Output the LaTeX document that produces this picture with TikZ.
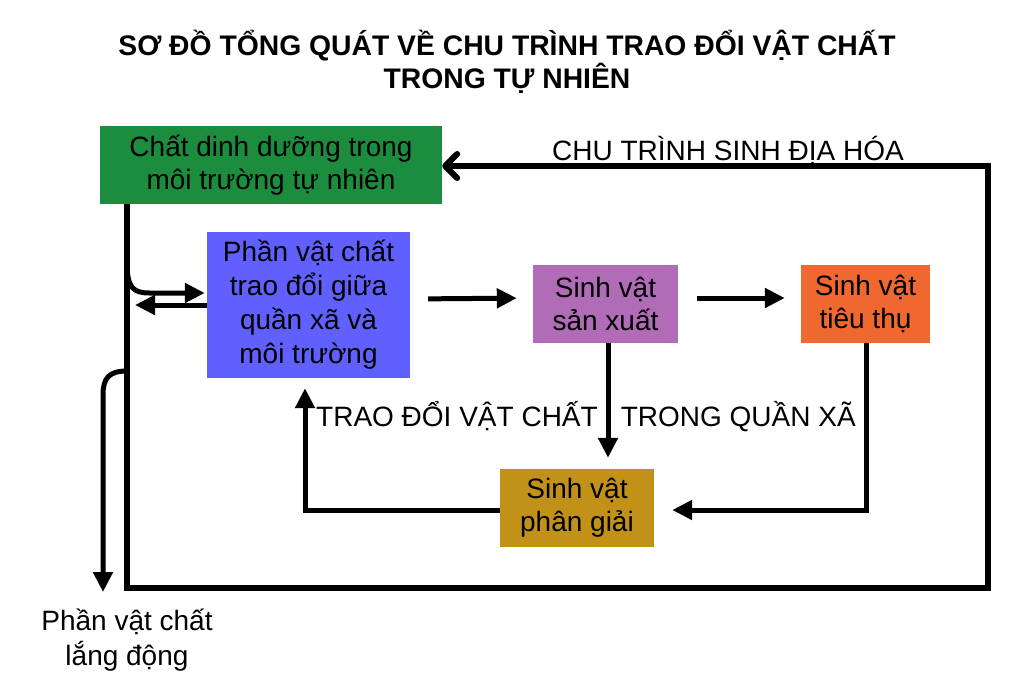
\documentclass[tikz,border=0pt]{standalone}
\usepackage{fontspec}
\setmainfont{Liberation Sans}
\usetikzlibrary{arrows.meta,calc}
\definecolor{cgreen}{RGB}{28,140,62}
\definecolor{cblue}{RGB}{96,96,255}
\definecolor{cpurple}{RGB}{176,108,182}
\definecolor{corange}{RGB}{238,104,48}
\definecolor{cgold}{RGB}{194,146,24}
\tikzset{
  box/.style={rectangle, inner sep=0pt, align=center, text=black,
    font=\fontsize{28pt}{33pt}\selectfont},
  lbl/.style={inner sep=0pt, align=center, font=\fontsize{28pt}{35pt}\selectfont},
  arr/.style={line width=5pt, -{Triangle[length=20pt,width=19pt]}},
  cyc/.style={line width=6pt, -{Straight Barb[round,length=12pt,width=24pt]}},
}
\begin{document}
\begin{tikzpicture}[x=1pt,y=-1pt]
\path[use as bounding box, fill=white] (0,0) rectangle (1024,699);
% title
\node[lbl, font=\fontsize{28.3pt}{33pt}\selectfont\bfseries] (title) at (507,62)
  {SƠ ĐỒ TỔNG QUÁT VỀ CHU TRÌNH TRAO ĐỔI VẬT CHẤT\\TRONG TỰ NHIÊN};
% boxes
\node[box, fill=cgreen, minimum width=342pt, minimum height=78pt] (green) at (271,165)
  {Chất dinh dưỡng trong\\môi trường tự nhiên};
\node[box, fill=cblue, minimum width=203pt, minimum height=146pt,
  font=\fontsize{28pt}{34pt}\selectfont] (blue) at (308.5,305)
  {Phần vật chất\\trao đổi giữa\\quần xã và\\môi trường};
\node[box, fill=cpurple, minimum width=145pt, minimum height=78pt] (prod) at (605.5,304)
  {Sinh vật\\sản xuất};
\node[box, fill=corange, minimum width=129pt, minimum height=78pt] (cons) at (865.5,304)
  {Sinh vật\\tiêu thụ};
\node[box, fill=cgold, minimum width=154pt, minimum height=78pt] (dec) at (577,508)
  {Sinh vật\\phân giải};
% labels
\node[lbl] (cyclbl) at (728,150) {CHU TRÌNH SINH ĐỊA HÓA};
\node[lbl, anchor=west] (trlbl) at (316,417) {TRAO ĐỔI VẬT CHẤT\hspace{23pt}TRONG QUẦN XÃ};
\node[lbl] (sed) at (127,640) {Phần vật chất\\lắng động};
% coordinates of the outer loop
\coordinate (bl) at (127,588);
\coordinate (br) at (988,588);
\coordinate (tr) at (988,166);
\coordinate (c1) at (127,262);
\coordinate (c2) at (135,305);
\coordinate (c3) at (127,371);
\coordinate (c4) at (103,592);
% outer loop
\draw[cyc] ([xshift=-144pt]green.south) -- (bl) -- (br) -- (tr) -- (tr -| green.east);
% arrows inside
\draw[arr, shorten <=18pt, shorten >=16pt] ([yshift=6pt]blue.east) -- ([yshift=6pt]prod.west);
\draw[arr, shorten <=19pt, shorten >=16pt] ([yshift=6pt]prod.east) -- ([yshift=6pt]cons.west);
\draw[arr, shorten >=11pt] ([xshift=2.5pt]prod.south) -- ([xshift=2.5pt]prod.south |- dec.north);
\draw[arr, shorten >=18pt] ([xshift=1pt]cons.south) |- ([yshift=-2pt]dec.east);
\draw[arr, shorten >=10pt] ([yshift=-2pt]dec.west) -| ([xshift=-3.5pt]blue.south);
% left side arrows
\draw[arr] (c1) .. controls (127,288) and (133,293) .. (150,293) -- ([yshift=12pt,xshift=-2pt]blue.west);
\draw[arr] (blue.west) -- (c2);
\draw[arr] (c3) .. controls (109,371) and (103,378) .. (103,395) -- (c4);
\end{tikzpicture}
\end{document}
